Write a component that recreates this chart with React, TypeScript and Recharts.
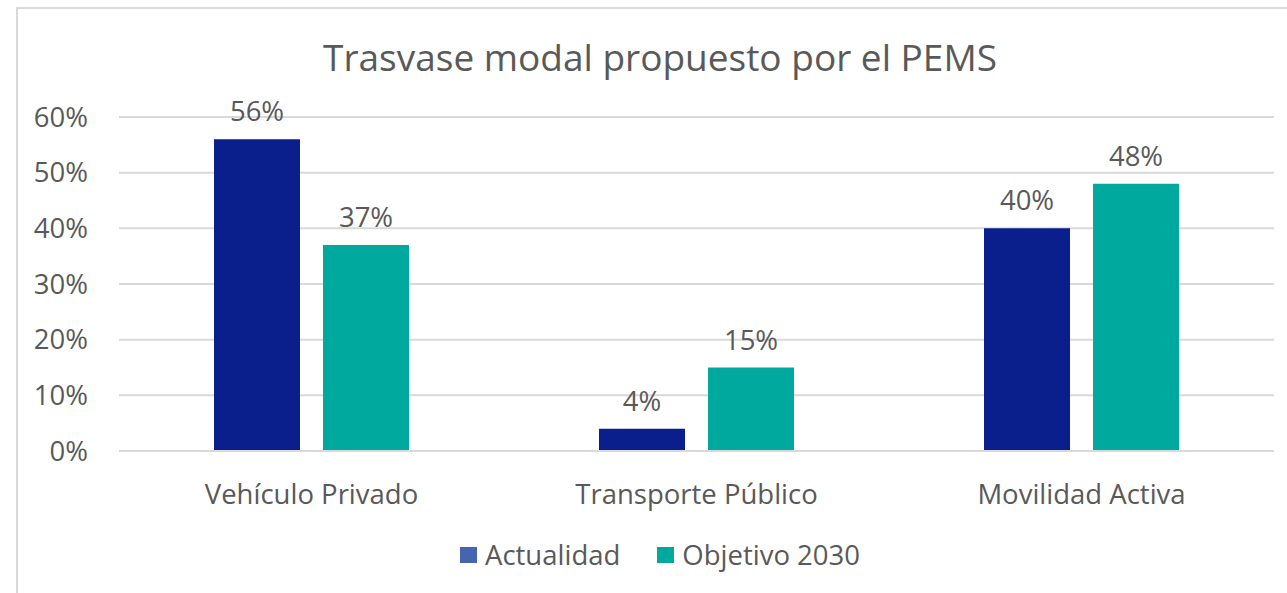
import React from 'react';
import { BarChart, Bar, XAxis, YAxis, CartesianGrid, LabelList } from 'recharts';

const categories = ['Vehículo Privado', 'Transporte Público', 'Movilidad Activa'];
const actualidad = [56, 4, 40];
const objetivo2030 = [37, 15, 48];
const yTicks = [0, 10, 20, 30, 40, 50, 60];
const seriesNames = ['Actualidad', 'Objetivo 2030'];

const data = categories.map((c, i) => ({ name: c, actualidad: actualidad[i], objetivo: objetivo2030[i] }));

const FONT = '"Open Sans", sans-serif';
const TEXT = '#595959';
const FS = 27.5;
const BAR_COLORS = ['#0b1f8c', '#00a99d'];
const LEGEND_COLORS = ['#4565b0', '#00a99d'];

const renderLegend = () => (
  <div style={{ display: 'flex', justifyContent: 'center', alignItems: 'center', fontFamily: FONT, fontSize: FS, color: TEXT, lineHeight: '37px' }}>
    {seriesNames.map((n, i) => (
      <div key={n} style={{ display: 'flex', alignItems: 'center', marginRight: i === 0 ? 37 : 0 }}>
        <div style={{ width: 17, height: 16, background: LEGEND_COLORS[i], marginRight: 8 }} />
        <span>{n}</span>
      </div>
    ))}
  </div>
);

export default function App() {
  return (
    <div style={{ position: 'absolute', left: 0, top: 0, width: 1287, height: 593, background: '#fff', overflow: 'hidden' }}>
      <div style={{ position: 'absolute', left: 16, top: 7, width: 1400, height: 700, borderLeft: '2px solid #d9d9d9', borderTop: '2px solid #d9d9d9' }} />
      <div style={{ position: 'absolute', left: 16, top: 31, width: 1288, textAlign: 'center', fontFamily: FONT, fontSize: 37, color: TEXT }}>
        Trasvase modal propuesto por el PEMS
      </div>
      <div style={{ position: 'absolute', left: 0, top: 0 }}>
        <BarChart width={1287} height={593} data={data} margin={{ top: 117, right: 13, bottom: 112, left: 0 }}
          barCategoryGap="24.5%" barGap={23}>
          <CartesianGrid vertical={false} stroke="#d9d9d9" strokeWidth={2} />
          <XAxis dataKey="name" height={30} axisLine={{ stroke: '#d9d9d9', strokeWidth: 2 }} tickLine={false} tickSize={0} tickMargin={33}
            tick={{ fontFamily: FONT, fontSize: FS, fill: TEXT }} interval={0} />
          <YAxis width={119} domain={[0, 60]} ticks={yTicks} axisLine={false} tickLine={false} tickSize={0} tickMargin={31}
            tickFormatter={(v: number) => `${v}%`} tick={{ fontFamily: FONT, fontSize: FS, fill: TEXT }} />
          <Bar dataKey="actualidad" name={seriesNames[0]} fill={BAR_COLORS[0]} barSize={86} isAnimationActive={false}>
            <LabelList dataKey="actualidad" position="top" offset={18} formatter={(v: number) => `${v}%`}
              style={{ fontFamily: FONT, fontSize: FS, fill: TEXT }} />
          </Bar>
          <Bar dataKey="objetivo" name={seriesNames[1]} fill={BAR_COLORS[1]} barSize={86} isAnimationActive={false}>
            <LabelList dataKey="objetivo" position="top" offset={18} formatter={(v: number) => `${v}%`}
              style={{ fontFamily: FONT, fontSize: FS, fill: TEXT }} />
          </Bar>
        </BarChart>
      </div>
      <div style={{ position: 'absolute', left: 16, width: 1288, top: 536 }}>
        {renderLegend()}
      </div>
    </div>
  );
}
